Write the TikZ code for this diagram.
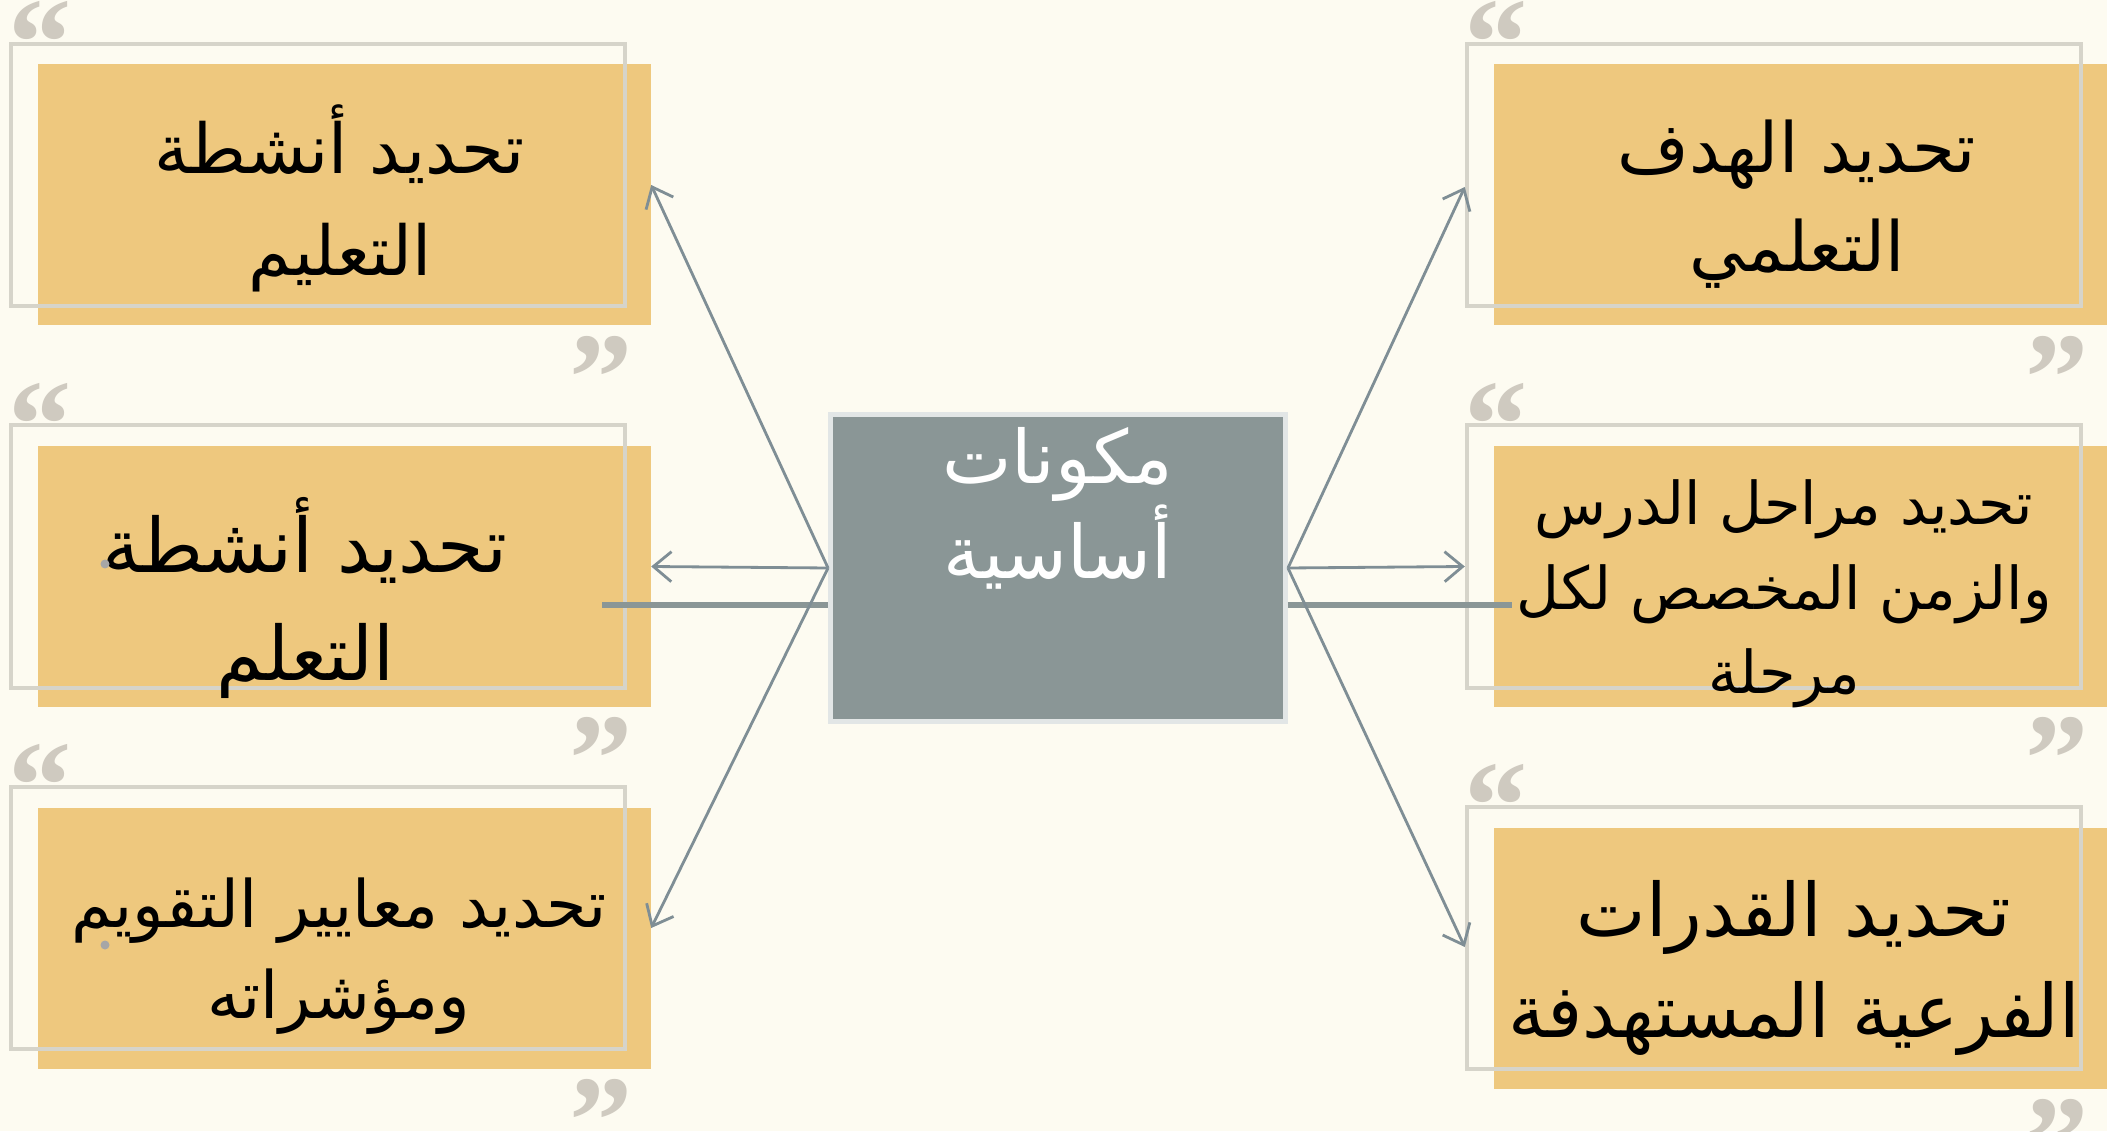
\documentclass[tikz,border=0pt]{standalone}
\usepackage{fontspec}
\setmainfont{DejaVu Sans}
\newfontfamily\arabicfont[Script=Arabic]{DejaVu Sans}
\newfontfamily\quotefont{Liberation Serif}
\TeXXeTstate=1
\usetikzlibrary{arrows.meta}
\definecolor{paper}{HTML}{FDFBF1}
\definecolor{gold}{HTML}{EEC87E}
\definecolor{framegray}{HTML}{D6D4CA}
\definecolor{quotegray}{HTML}{CFCAC0}
\definecolor{coregray}{HTML}{8A9696}
\definecolor{coreedge}{HTML}{E2E6E6}
\definecolor{linkgray}{HTML}{7F8E95}
\newcommand{\artext}[1]{\beginR #1\endR}
\tikzstyle{goldbox} = [fill=gold, minimum width=6.13cm, minimum height=2.61cm, inner sep=0pt]
\tikzstyle{frame} = [draw=framegray, line width=1.1pt]
\tikzstyle{quote} = [text=quotegray, font=\quotefont\bfseries\fontsize{36}{36}\selectfont, inner sep=0pt]
\tikzstyle{boxtext} = [align=center, inner sep=0pt]
\tikzstyle{corebox} = [fill=coregray, draw=coreedge, line width=1.4pt, minimum width=4.55cm, minimum height=3.07cm]
\tikzstyle{coretext} = [align=center, text=white, inner sep=0pt, font=\arabicfont\fontsize{21}{27}\selectfont]
\tikzstyle{link} = [draw=linkgray, line width=0.8pt, -{Straight Barb[length=1.8mm,width=3mm]}]
\tikzstyle{bar} = [draw=coregray, line width=1.6pt]
\tikzstyle{speck} = [circle, fill=gray!70, inner sep=0pt, minimum size=0.9mm]

\begin{document}
\begin{tikzpicture}
	\useasboundingbox (0,0) rectangle (21.07,11.31);
	\fill[paper] (0,0) rectangle (21.07,11.31);

	\node[goldbox] (l1) at (3.44,9.36) {};
	\node[goldbox] (l2) at (3.44,5.545) {};
	\node[goldbox] (l3) at (3.44,1.93) {};
	\node[goldbox] (r1) at (18.0,9.36) {};
	\node[goldbox] (r2) at (18.0,5.545) {};
	\node[goldbox] (r3) at (18.0,1.73) {};

	\foreach \b in {l1,l2,l3,r1,r2,r3} {
		\draw[frame] ([shift={(-0.26,0.20)}]\b.south west) rectangle ([shift={(-0.26,0.20)}]\b.north east);
		\node[quote] (\b-open) at ([shift={(0.03,0.20)}]\b.north west) {“};
		\node[quote] (\b-close) at ([shift={(-0.50,-0.52)}]\b.south east) {”};
	}

	\node[corebox] (core) at (10.58,5.63) {};
	\node[coretext] (coretitle) at (10.58,6.23) {\artext{مكونات}\\\artext{أساسية}};

	\coordinate (lbarend) at (6.02,5.26);
	\coordinate (rbarend) at (15.12,5.26);
	\draw[bar] (lbarend) -- (lbarend -| core.west);
	\draw[bar] (core.east |- rbarend) -- (rbarend);

	\draw[link] (core.west) -- ([yshift=1mm]l1.east);
	\draw[link] (core.west) -- ([yshift=1mm]l2.east);
	\draw[link] (core.west) -- ([yshift=1mm]l3.east);
	\draw[link] (core.east) -- ([shift={(-0.28,0.08)}]r1.west);
	\draw[link] (core.east) -- ([shift={(-0.28,0.10)}]r2.west);
	\draw[link] (core.east) -- ([shift={(-0.28,0.11)}]r3.west);

	\node[boxtext, font=\arabicfont\fontsize{19.6}{29}\selectfont] (l1text) at (3.40,9.33) {\artext{تحديد أنشطة}\\\artext{التعليم}};
	\node[boxtext, font=\arabicfont\fontsize{21.4}{31}\selectfont] (l2text) at (3.05,5.33) {\artext{تحديد أنشطة}\\\artext{التعلم}};
	\node[boxtext, font=\arabicfont\fontsize{18.6}{26}\selectfont] (l3text) at (3.39,1.75) {\artext{تحديد معايير التقويم}\\\artext{ومؤشراته}};
	\node[boxtext, font=\arabicfont\fontsize{19.7}{28}\selectfont] (r1text) at (17.97,9.27) {\artext{تحديد الهدف}\\\artext{التعلمي}};
	\node[boxtext, font=\arabicfont\fontsize{16.8}{24}\selectfont] (r2text) at (17.84,5.37) {\artext{تحديد مراحل الدرس}\\\artext{والزمن المخصص لكل}\\\artext{مرحلة}};
	\node[boxtext, font=\arabicfont\fontsize{21}{29}\selectfont] (r3text) at (17.94,1.63) {\artext{تحديد القدرات}\\\artext{الفرعية المستهدفة}};

	\node[speck] (speck1) at (1.05,5.67) {};
	\node[speck] (speck2) at (1.05,1.86) {};
\end{tikzpicture}
\end{document}
